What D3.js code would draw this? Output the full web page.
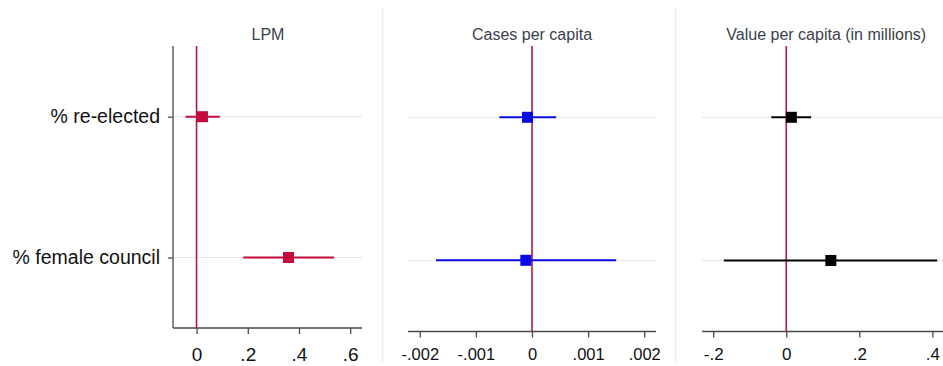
<!DOCTYPE html>
<html>
<head>
<meta charset="utf-8">
<script src="https://cdn.jsdelivr.net/npm/d3@7"></script>
<style>
  body { margin: 0; background: #fff; }
  svg { font-family: "Liberation Sans", Arial, sans-serif; }
</style>
</head>
<body>
<div id="chart-container"></div>
<script>
// Row labels (same for all three panels)
const categories = ["% re-elected", "% female council"];
const panelTitles = ["LPM", "Cases per capita", "Value per capita (in millions)"];

// LPM estimates with 95% CI
const lpmCoef = [0.023, 0.359];
const lpmLow = [-0.043, 0.182];
const lpmHigh = [0.091, 0.537];

// Cases per capita
const casesCoef = [-0.00008, -0.00011];
const casesLow = [-0.00058, -0.00171];
const casesHigh = [0.00043, 0.0015];

// Value per capita (in millions)
const valueCoef = [0.014, 0.122];
const valueLow = [-0.041, -0.171];
const valueHigh = [0.068, 0.413];

// Tick values and labels
const lpmTicks = [0, 0.2, 0.4, 0.6];
const lpmTickLabels = ["0", ".2", ".4", ".6"];
const casesTicks = [-0.002, -0.001, 0, 0.001, 0.002];
const casesTickLabels = ["-.002", "-.001", "0", ".001", ".002"];
const valueTicks = [-0.2, 0, 0.2, 0.4];
const valueTickLabels = ["-.2", "0", ".2", ".4"];

// Layout (pixel placement of each panel)
const panels = [
    { title: panelTitles[0], coef: lpmCoef, lo: lpmLow, hi: lpmHigh,
      ticks: lpmTicks, labels: lpmTickLabels, domain: [-0.092, 0.646],
      x0: 173, x1: 362, axisY: 328, rows: [116.7, 257.5], color: "#c40a3c",
      leftAxis: true, tickFont: 19, tickBase: 361 },
    { title: panelTitles[1], coef: casesCoef, lo: casesLow, hi: casesHigh,
      ticks: casesTicks, labels: casesTickLabels, domain: [-0.00221, 0.00221],
      x0: 408, x1: 656, axisY: 331.5, rows: [117.3, 260.3], color: "#0a0ae6",
      leftAxis: false, tickFont: 16.5, tickBase: 359.5 },
    { title: panelTitles[2], coef: valueCoef, lo: valueLow, hi: valueHigh,
      ticks: valueTicks, labels: valueTickLabels, domain: [-0.2306, 0.429],
      x0: 702, x1: 943, axisY: 331.5, rows: [117.3, 260.5], color: "#000000",
      leftAxis: false, tickFont: 17, tickBase: 359.5 }
];

const zeroColor = "#b3184a";
const axisColor = "#4a4a4a";
const plotTop = 46;

const svg = d3.select("#chart-container").append("svg")
    .attr("width", 943)
    .attr("height", 366);

// faint separators between panels
[382.5, 675.5].forEach(sx => {
    svg.append("line")
        .attr("x1", sx).attr("x2", sx)
        .attr("y1", 7).attr("y2", 362)
        .attr("stroke", "#ececec")
        .attr("stroke-width", 1.5);
});

panels.forEach((p, pi) => {
    const x = d3.scaleLinear().domain(p.domain).range([p.x0, p.x1]);
    const y = d3.scaleOrdinal().domain(categories).range(p.rows);
    const g = svg.append("g");

    // gridlines for each row
    g.selectAll(".grid")
        .data(categories)
        .enter().append("line")
        .attr("x1", p.x0).attr("x2", p.x1)
        .attr("y1", d => y(d)).attr("y2", d => y(d))
        .attr("stroke", "#e6e6e6")
        .attr("stroke-width", 1);

    // x axis
    const xAxis = g.append("g")
        .attr("transform", "translate(0," + p.axisY + ")")
        .call(d3.axisBottom(x)
            .tickValues(p.ticks)
            .tickFormat((d, i) => p.labels[i])
            .tickSize(6)
            .tickSizeOuter(0)
            .tickPadding(4));
    xAxis.select(".domain").attr("stroke", axisColor).attr("stroke-width", 1.3)
        .attr("d", "M" + p.x0 + ",0H" + p.x1);
    xAxis.selectAll(".tick line").attr("stroke", axisColor).attr("stroke-width", 1.3);
    xAxis.selectAll(".tick text")
        .attr("fill", "#111")
        .attr("dy", null)
        .attr("y", p.tickBase - p.axisY)
        .style("font-size", p.tickFont + "px");

    // y axis (first panel only)
    if (p.leftAxis) {
        const yAxis = g.append("g")
            .attr("transform", "translate(" + p.x0 + ",0)")
            .call(d3.axisLeft(y).tickSize(5).tickPadding(8));
        yAxis.select(".domain").attr("stroke", axisColor).attr("stroke-width", 1.3)
            .attr("d", "M0," + plotTop + "V" + p.axisY);
        yAxis.selectAll(".tick line").attr("stroke", axisColor).attr("stroke-width", 1.3);
        yAxis.selectAll(".tick text")
            .attr("fill", "#111")
            .style("font-size", "19.5px");
    }

    // zero reference line
    g.append("line")
        .attr("x1", x(0)).attr("x2", x(0))
        .attr("y1", plotTop).attr("y2", p.axisY)
        .attr("stroke", zeroColor)
        .attr("stroke-width", 1.6);

    const rows = categories.map((c, i) => ({ cat: c, coef: p.coef[i], lo: p.lo[i], hi: p.hi[i] }));

    // confidence intervals
    g.selectAll(".ci")
        .data(rows)
        .enter().append("line")
        .attr("x1", d => x(d.lo)).attr("x2", d => x(d.hi))
        .attr("y1", d => y(d.cat)).attr("y2", d => y(d.cat))
        .attr("stroke", p.color)
        .attr("stroke-width", 2);

    // point estimates
    const ms = 11;
    g.selectAll(".pt")
        .data(rows)
        .enter().append("rect")
        .attr("x", d => x(d.coef) - ms / 2)
        .attr("y", d => y(d.cat) - ms / 2)
        .attr("width", ms).attr("height", ms)
        .attr("fill", p.color);

    // panel title
    g.append("text")
        .attr("x", pi === 0 ? 268 : x(0) + (pi === 2 ? 40 : 0))
        .attr("y", 40)
        .attr("text-anchor", "middle")
        .attr("fill", "#3a3f4b")
        .style("font-size", "16px")
        .text(p.title);
});
</script>
</body>
</html>
